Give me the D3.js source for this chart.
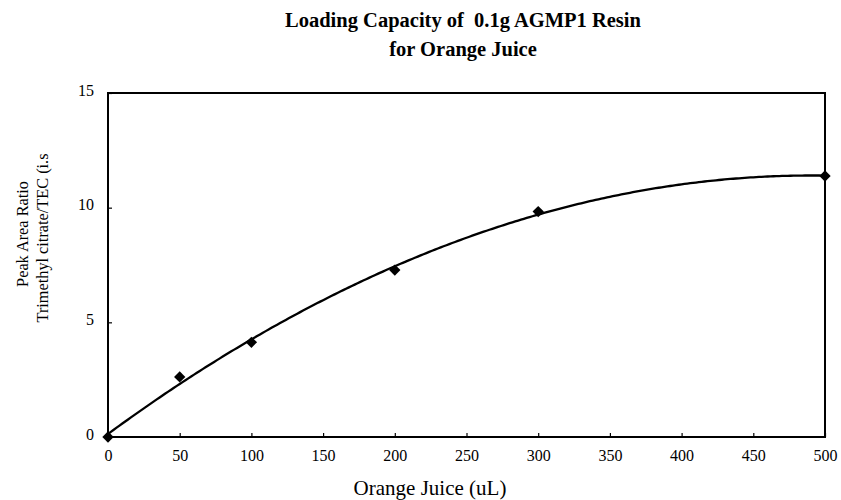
<!DOCTYPE html>
<html>
<head>
<meta charset="utf-8">
<script src="https://cdn.jsdelivr.net/npm/d3@7"></script>
<style>
  html, body { margin: 0; padding: 0; background: #fff; }
  svg { display: block; }
  text { font-family: "Liberation Serif", "Times New Roman", serif; fill: #000; white-space: pre; }
</style>
</head>
<body>
<svg id="chart" width="841" height="500"></svg>
<script>
// ---- data ----
const volumes = [0, 50, 100, 200, 300, 500];           // Orange Juice (uL)
const ratios  = [0, 2.62, 4.13, 7.28, 9.83, 11.38];    // Peak Area Ratio
const xTicks  = [0, 50, 100, 150, 200, 250, 300, 350, 400, 450, 500];
const yTicks  = [0, 5, 10, 15];
const titleLines = ["Loading Capacity of  0.1g AGMP1 Resin", "for Orange Juice"];
const xTitle = "Orange Juice (uL)";
const yTitleLines = ["Peak Area Ratio", "Trimethyl citrate/TEC (i.s"];

// ---- layout ----
const svg = d3.select("#chart");
const pL = 108, pR = 825, pT = 93, pB = 437;

const x = d3.scaleLinear().domain([0, 500]).range([pL, pR]);
const y = d3.scaleLinear().domain([0, 15]).range([pB, pT]);

// 2nd-order polynomial least squares trendline computed from the data
function polyFit2(xs, ys) {
  let n = xs.length, S = [0,0,0,0,0], T = [0,0,0];
  for (let i = 0; i < n; i++) {
    let p = 1;
    for (let k = 0; k < 5; k++) { S[k] += p; if (k < 3) T[k] += p * ys[i]; p *= xs[i]; }
  }
  const A = [[S[0],S[1],S[2],T[0]],[S[1],S[2],S[3],T[1]],[S[2],S[3],S[4],T[2]]];
  for (let i = 0; i < 3; i++) {
    for (let j = i + 1; j < 3; j++) {
      const f = A[j][i] / A[i][i];
      for (let k = i; k < 4; k++) A[j][k] -= f * A[i][k];
    }
  }
  const c = [0,0,0];
  for (let i = 2; i >= 0; i--) {
    let s = A[i][3];
    for (let k = i + 1; k < 3; k++) s -= A[i][k] * c[k];
    c[i] = s / A[i][i];
  }
  return c;
}
const coef = polyFit2(volumes, ratios);
const trend = d3.range(0, 500.01, 2).map(v => [v, coef[0] + coef[1]*v + coef[2]*v*v]);

// ---- title ----
svg.append("text").attr("x", 463).attr("y", 27).attr("text-anchor","middle")
  .attr("font-size", 20.5).attr("font-weight","bold").text(titleLines[0]);
svg.append("text").attr("x", 463).attr("y", 56).attr("text-anchor","middle")
  .attr("font-size", 20.5).attr("font-weight","bold").text(titleLines[1]);

// ---- axes ----
const xAxis = d3.axisBottom(x).tickValues(xTicks).tickSizeInner(-4).tickSizeOuter(0).tickPadding(13);
const yAxis = d3.axisLeft(y).tickValues(yTicks).tickSizeInner(-4).tickSizeOuter(0).tickPadding(14);

const gx = svg.append("g").attr("transform", `translate(0,${pB})`).call(xAxis);
const gy = svg.append("g").attr("transform", `translate(${pL},0)`).call(yAxis);
[gx, gy].forEach(g => {
  g.select(".domain").remove();
  g.selectAll(".tick line").attr("stroke", "#000").attr("stroke-width", 1.2);
  g.selectAll(".tick text").attr("font-family", "Liberation Serif").attr("font-size", 16).attr("fill","#000");
});
gy.selectAll(".tick text").attr("y", -3);

// frame
svg.append("rect").attr("x", pL).attr("y", pT).attr("width", pR-pL).attr("height", pB-pT)
  .attr("fill","none").attr("stroke","#000").attr("stroke-width", 2);

// ---- trendline ----
svg.append("path").datum(trend)
  .attr("fill","none").attr("stroke","#000").attr("stroke-width", 2.3)
  .attr("d", d3.line().x(d => x(d[0])).y(d => y(d[1])));

// ---- markers (diamonds) ----
svg.selectAll(".pt").data(volumes.map((v,i)=>[v, ratios[i]])).enter().append("path")
  .attr("class","pt")
  .attr("transform", d => `translate(${x(d[0])},${y(d[1])}) rotate(45)`)
  .attr("d", d3.symbol().type(d3.symbolSquare).size(64))
  .attr("fill","#000");

// ---- axis titles ----
svg.append("text").attr("x", 430).attr("y", 495).attr("text-anchor","middle")
  .attr("font-size", 21).text(xTitle);
svg.append("text").attr("transform", `translate(28,234) rotate(-90)`).attr("text-anchor","middle")
  .attr("font-size", 16.3).text(yTitleLines[0]);
svg.append("text").attr("transform", `translate(48,238) rotate(-90)`).attr("text-anchor","middle")
  .attr("font-size", 16.3).text(yTitleLines[1]);
</script>
</body>
</html>
